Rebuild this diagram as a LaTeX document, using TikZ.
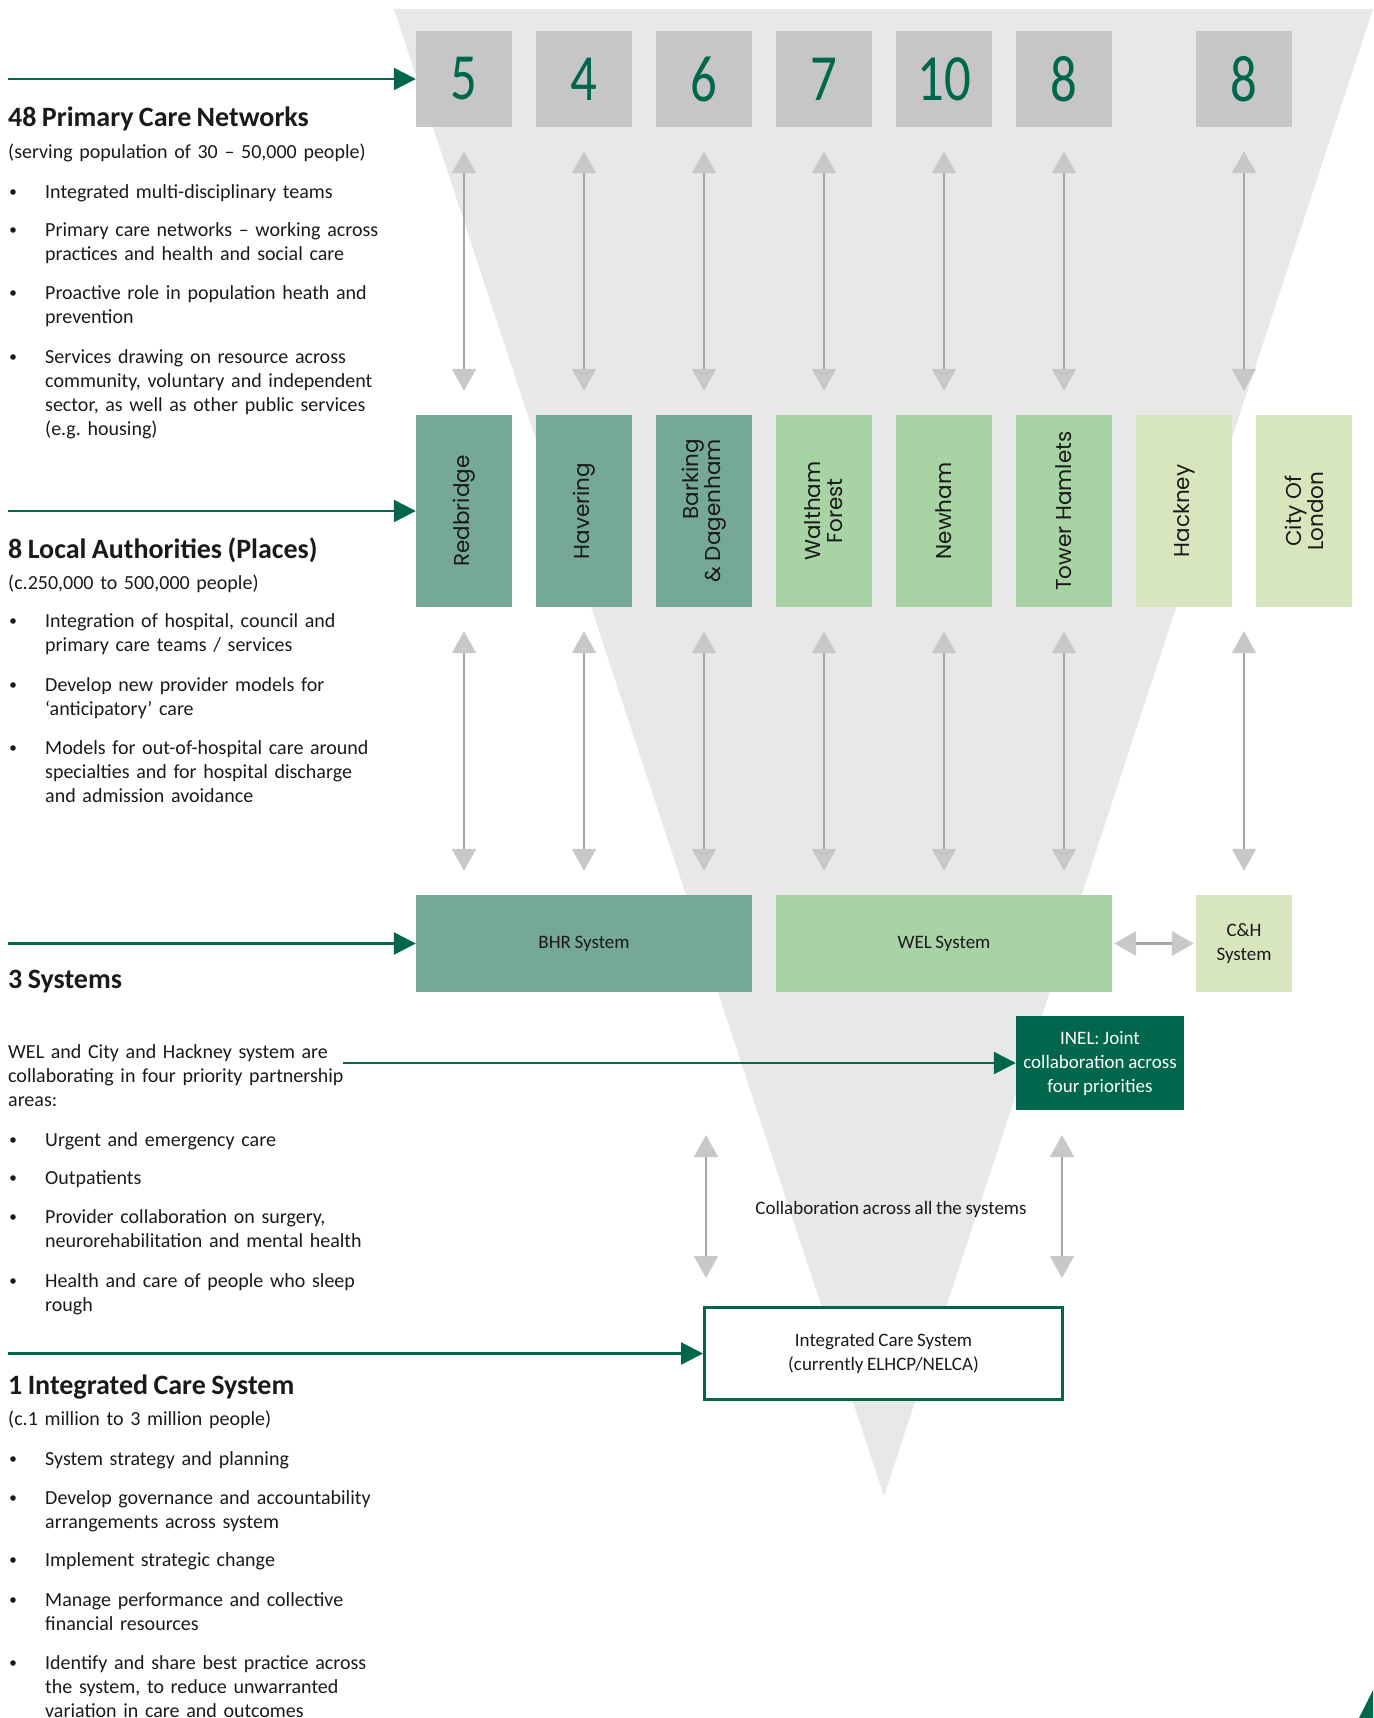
\documentclass[tikz,border=0pt]{standalone}
\usepackage{fontspec}
\setmainfont[WordSpace=0.85]{Carlito}
\newfontfamily\labelfont{Poppins}
\newfontfamily\numfont[FakeStretch=0.8]{Carlito}
\usetikzlibrary{arrows.meta,calc}
\frenchspacing

\definecolor{funnelgray}{HTML}{E8E8E8}
\definecolor{boxgray}{HTML}{C6C6C6}
\definecolor{nhsgreen}{HTML}{00674D}
\definecolor{bhrfill}{HTML}{76A89A}
\definecolor{welfill}{HTML}{A8D3A5}
\definecolor{chfill}{HTML}{D8E6BE}
\definecolor{shaftgray}{HTML}{A6A6A6}
\definecolor{headgray}{HTML}{C8C8C8}
\definecolor{ink}{HTML}{1A1A1A}

% one bullet point of the left-hand column: name, first baseline, text
\newcommand\colitem[3]{%
  \fill[ink] (13,#2) ++(0,-6) circle (2.8pt);
  \node[bodytext] (#1) at (45,#2) {#3};
}

\begin{document}
\begin{tikzpicture}[x=1pt,y=-1pt,
  numbox/.style={fill=boxgray, minimum width=96pt, minimum height=96pt, inner sep=0pt,
    text=nhsgreen, font=\numfont\fontsize{66}{66}\selectfont},
  placebox/.style={minimum width=96pt, minimum height=192pt, inner sep=0pt},
  placelabel/.style={rotate=90, inner sep=0pt, text=ink, align=center,
    font=\labelfont\fontsize{21.5}{22}\selectfont},
  sysbox/.style={minimum width=336pt, minimum height=97pt, inner sep=0pt, text=ink,
    font=\fontsize{19}{24}\selectfont, align=center},
  bodytext/.style={font=\fontsize{20}{24}\selectfont, text=ink, anchor=base west,
    inner sep=0pt, align=left, text width=360pt},
  headtext/.style={font=\bfseries\fontsize{28}{30}\selectfont, text=ink,
    anchor=base west, inner sep=0pt},
  linkarrow/.style={draw=shaftgray, line width=2.2pt,
    {Triangle[width=24pt,length=22pt,color=headgray]}-{Triangle[width=24pt,length=22pt,color=headgray]}},
  gap/.style={shorten <=24pt, shorten >=24pt},
  levelarrow/.style={draw=nhsgreen, line width=2.5pt, -{Triangle[width=22pt,length=22pt]}}
]
\useasboundingbox (0,0) rectangle (1373,1718);

% background funnel
\fill[funnelgray] (394,9) -- (1373,9) -- (884,1496) -- cycle;
% corner mark
\fill[nhsgreen] (1359,1718) -- (1373,1690) -- (1373,1718) -- cycle;

% ---- level 1: primary care networks ----
\node[numbox] (n1) at (464,79) {5};
\node[numbox] (n2) at (584,79) {4};
\node[numbox] (n3) at (704,79) {6};
\node[numbox] (n4) at (824,79) {7};
\node[numbox] (n5) at (944,79) {10};
\node[numbox] (n6) at (1064,79) {8};
\node[numbox] (n7) at (1244,79) {8};

% ---- level 2: places ----
\node[placebox, fill=bhrfill] (redb) at (464,511) {};
\node[placebox, fill=bhrfill] (have) at (584,511) {};
\node[placebox, fill=bhrfill] (bark) at (704,511) {};
\node[placebox, fill=welfill] (walt) at (824,511) {};
\node[placebox, fill=welfill] (newh) at (944,511) {};
\node[placebox, fill=welfill] (towr) at (1064,511) {};
\node[placebox, fill=chfill] (hack) at (1184,511) {};
\node[placebox, fill=chfill] (city) at (1304,511) {};

\node[placelabel] at (redb) {Redbridge};
\node[placelabel] at (have) {Havering};
\node[placelabel, align=right] at (bark) {Barking\\\& Dagenham};
\node[placelabel] at (walt) {Waltham\\Forest};
\node[placelabel] at (newh) {Newham};
\node[placelabel] at (towr) {Tower Hamlets};
\node[placelabel] at (hack) {Hackney};
\node[placelabel] at (city) {City Of\\London};

\coordinate (hctop) at ($(hack.north)!0.5!(city.north)$);
\coordinate (hcbot) at ($(hack.south)!0.5!(city.south)$);

% ---- level 3: systems ----
\node[sysbox, fill=bhrfill] (bhr) at (584,943.5) {BHR System};
\node[sysbox, fill=welfill] (wel) at (944,943.5) {WEL System};
\node[sysbox, fill=chfill, minimum width=96pt] (ch) at (1244,943.5) {C\&H\\System};

\node[fill=nhsgreen, text=white, minimum width=168pt, minimum height=94pt, inner sep=0pt,
  align=center, font=\fontsize{19}{24}\selectfont] (inel) at (1100,1063)
  {INEL: Joint\\collaboration across\\four priorities};

% ---- level 4: integrated care system ----
\node[draw=nhsgreen, line width=3pt, fill=white, minimum width=358pt, minimum height=92pt,
  inner sep=0pt, align=center, text=ink, font=\fontsize{19}{24}\selectfont] (ics) at (883.5,1353.5)
  {Integrated Care System\\(currently ELHCP/NELCA)};

\node[text=ink, font=\fontsize{19}{24}\selectfont, inner sep=0pt] (collab) at (891,1209)
  {Collaboration across all the systems};

% ---- links between levels ----
\foreach \a/\b in {n1/redb, n2/have, n3/bark, n4/walt, n5/newh, n6/towr}
  \draw[linkarrow, gap] (\a.south) -- (\b.north);
\draw[linkarrow, gap] (n7.south) -- (hctop);

\draw[linkarrow, gap] (redb.south) -- ($(bhr.north) + (-120,0)$);
\draw[linkarrow, gap] (have.south) -- (bhr.north);
\draw[linkarrow, gap] (bark.south) -- ($(bhr.north) + (120,0)$);
\draw[linkarrow, gap] (walt.south) -- ($(wel.north) + (-120,0)$);
\draw[linkarrow, gap] (newh.south) -- (wel.north);
\draw[linkarrow, gap] (towr.south) -- ($(wel.north) + (120,0)$);
\draw[linkarrow, gap] (hcbot) -- (ch.north);

\draw[draw=shaftgray, line width=3.5pt,
  {Triangle[width=24pt,length=22pt,color=headgray]}-{Triangle[width=24pt,length=22pt,color=headgray]},
  shorten <=2pt, shorten >=2pt] (wel.east) -- (ch.west);

\coordinate (ca1) at (706,1135);
\coordinate (ca2) at (706,1278);
\coordinate (cb1) at (1062,1135);
\coordinate (cb2) at (1062,1278);
\draw[linkarrow] (ca1) -- (ca2);
\draw[linkarrow] (cb1) -- (cb2);

% ---- left column: level arrows ----
\coordinate (s1) at (8,79);
\coordinate (s2) at (8,511);
\coordinate (s3) at (8,943.5);
\coordinate (s4) at (343,1063);
\coordinate (s5) at (8,1353.5);
\draw[levelarrow] (s1) -- (n1.west);
\draw[levelarrow] (s2) -- (redb.west);
\draw[levelarrow] (s3) -- (bhr.west);
\draw[levelarrow] (s4) -- (inel.west);
\draw[levelarrow] (s5) -- (ics.west);

% ---- left column: texts ----
\node[headtext] (h1) at (8,127) {48 Primary Care Networks};
\node[bodytext] (t1) at (8,158) {(serving population of 30 – 50,000 people)};
\colitem{a1}{198}{Integrated multi-disciplinary teams}
\colitem{a2}{236}{Primary care networks – working across\\practices and health and social care}
\colitem{a3}{299}{Proactive role in population heath and\\prevention}
\colitem{a4}{363}{Services drawing on resource across\\community, voluntary and independent\\sector, as well as other public services\\(e.g. housing)}

\node[headtext] (h2) at (8,558) {8 Local Authorities (Places)};
\node[bodytext] (t2) at (8,589) {(c.250,000 to 500,000 people)};
\colitem{b1}{627}{Integration of hospital, council and\\primary care teams / services}
\colitem{b2}{691}{Develop new provider models for\\‘anticipatory’ care}
\colitem{b3}{754}{Models for out-of-hospital care around\\specialties and for hospital discharge\\and admission avoidance}

\node[headtext] (h3) at (8,988) {3 Systems};
\node[bodytext] (t3) at (8,1058) {WEL and City and Hackney system are\\collaborating in four priority partnership\\areas:};
\colitem{c1}{1146}{Urgent and emergency care}
\colitem{c2}{1184}{Outpatients}
\colitem{c3}{1223}{Provider collaboration on surgery,\\neurorehabilitation and mental health}
\colitem{c4}{1287}{Health and care of people who sleep\\rough}

\node[headtext] (h4) at (8,1394) {1 Integrated Care System};
\node[bodytext] (t4) at (8,1425) {(c.1 million to 3 million people)};
\colitem{d1}{1465}{System strategy and planning}
\colitem{d2}{1504}{Develop governance and accountability\\arrangements across system}
\colitem{d3}{1566}{Implement strategic change}
\colitem{d4}{1606}{Manage performance and collective\\financial resources}
\colitem{d5}{1669}{Identify and share best practice across\\the system, to reduce unwarranted\\variation in care and outcomes}
\end{tikzpicture}
\end{document}
